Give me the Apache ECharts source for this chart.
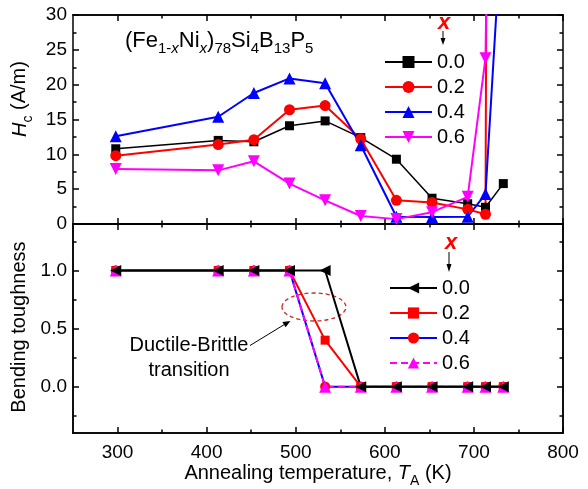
<!DOCTYPE html>
<html><head><meta charset="utf-8">
<script src="https://cdn.jsdelivr.net/npm/echarts@6/dist/echarts.min.js"></script>
<style>html,body{margin:0;padding:0;background:#fff}#c{width:588px;height:489px}</style>
</head><body><div id="c"></div>
<script>
// ---- data ----
const temps = [298, 413, 453, 493, 533, 573, 613, 653, 693, 713, 733];
const compositions = ['0.0', '0.2', '0.4', '0.6'];
const hc00 = [10.8, 12.0, 11.8, 14.1, 14.8, 12.4, 9.3, 3.7, 2.9, 2.4, 5.8];
const hc02 = [9.8, 11.4, 12.1, 16.4, 17.0, 12.2, 3.4, 3.1, 2.1, 1.4, 700];
const hc04 = [12.6, 15.4, 18.8, 20.9, 20.2, 11.3, 1.05, 1.0, 1.05, 4.3, 47];
const hc06 = [7.9, 7.7, 9.0, 5.8, 3.4, 1.15, 0.7, 1.7, 3.9, 23.8, 200];
const bt00 = [1, 1, 1, 1, 1, 0, 0, 0, 0, 0, 0];
const bt02 = [1, 1, 1, 1, 0.4, 0, 0, 0, 0, 0, 0];
const bt04 = [1, 1, 1, 1, 0, 0, 0, 0, 0, 0, 0];
const bt06 = [1, 1, 1, 1, 0, 0, 0, 0, 0, 0, 0];
const xMajorTicks = [300, 400, 500, 600, 700, 800];
const xMinorTicks = [350, 450, 550, 650, 750];
const btMajorTicks = [0, 0.5, 1.0];
const btMinorTicks = [-0.25, 0.25, 0.75, 1.25];

const FONT = '"Liberation Sans", Arial, Helvetica, sans-serif';
const zip = (xs, ys) => xs.map((x, i) => [x, ys[i]]);
const AX = {color: '#000', width: 1.5};

function xAx(grid, pos, ticks, len, showLabels, extra) {
  return Object.assign({
    type: 'value', gridIndex: grid, position: pos, min: 250, max: 800,
    axisLine: {show: true, onZero: false, lineStyle: AX},
    axisTick: {show: true, inside: true, length: len, customValues: ticks, lineStyle: AX},
    axisLabel: {show: showLabels, customValues: ticks, fontSize: 19, color: '#000', fontFamily: FONT, margin: 10},
    splitLine: {show: false}
  }, extra || {});
}
function yBt(pos, ticks, len, showLabels, extra) {
  return Object.assign({
    type: 'value', gridIndex: 1, position: pos, min: -0.4, max: 1.4,
    axisLine: {show: true, onZero: false, lineStyle: AX},
    axisTick: {show: true, inside: true, length: len, customValues: ticks, lineStyle: AX},
    axisLabel: {show: showLabels, customValues: ticks, fontSize: 19, color: '#000', fontFamily: FONT, margin: 6,
      formatter: v => Number(v).toFixed(1)},
    splitLine: {show: false}
  }, extra || {});
}
function yHc(pos, showLabels, extra) {
  return Object.assign({
    type: 'value', gridIndex: 0, position: pos, min: 0, max: 30, interval: 5,
    axisLine: {show: true, onZero: false, lineStyle: AX},
    axisTick: {show: true, inside: true, length: 6, lineStyle: AX},
    minorTick: {show: true, splitNumber: 2, length: 3.5, lineStyle: AX},
    axisLabel: {show: showLabels, fontSize: 19, color: '#000', fontFamily: FONT, margin: 6},
    splitLine: {show: false}
  }, extra || {});
}

const mainRich = {
  n: {fontSize: 20, fontFamily: FONT, color: '#000', lineHeight: 22, padding: [0, 0, 5, 0], verticalAlign: 'bottom'},
  i: {fontSize: 20, fontFamily: FONT, color: '#000', fontStyle: 'italic', lineHeight: 22, padding: [0, 0, 5, 0], verticalAlign: 'bottom'},
  s: {fontSize: 14, fontFamily: FONT, color: '#000', lineHeight: 14, verticalAlign: 'bottom'}
};

function lineSeries(name, xi, yi, ys, symbol, size, color, lw, extra) {
  return Object.assign({
    name: name, type: 'line', xAxisIndex: xi, yAxisIndex: yi,
    data: zip(temps, ys), symbol: symbol, symbolSize: size, showAllSymbol: true,
    lineStyle: {color: color, width: lw}, itemStyle: {color: color},
    clip: true, emphasis: {disabled: true}, animation: false
  }, extra || {});
}

const option = {
  animation: false,
  textStyle: {fontFamily: FONT},
  grid: [
    {left: 73, right: 25, top: 15, height: 209},
    {left: 73, right: 25, top: 224, height: 213}
  ],
  xAxis: [
    xAx(0, 'bottom', xMajorTicks, 6, false),
    xAx(0, 'bottom', xMinorTicks, 3.5, false),
    xAx(0, 'top', xMajorTicks, 6, false),
    xAx(0, 'top', xMinorTicks, 3.5, false),
    xAx(1, 'bottom', xMajorTicks, 6, true, {
      name: '{n|Annealing temperature, }{i|T}{s|A}{n| (K)}',
      nameLocation: 'middle', nameGap: 28,
      nameTextStyle: {rich: mainRich}
    }),
    xAx(1, 'bottom', xMinorTicks, 3.5, false),
    xAx(1, 'top', xMajorTicks, 6, false),
    xAx(1, 'top', xMinorTicks, 3.5, false)
  ],
  yAxis: [
    yHc('left', true, {
      name: '{i|H}{s|c}{n| (A/m)}', nameLocation: 'middle', nameRotate: 90, nameGap: 23,
      nameTextStyle: {rich: mainRich, padding: [0, 0, 0, 41]}
    }),
    yHc('right', false),
    yBt('left', btMajorTicks, 6, true, {
      name: 'Bending toughness', nameLocation: 'middle', nameRotate: 90, nameGap: 32,
      nameTextStyle: {fontSize: 20, color: '#000', fontFamily: FONT, padding: [0, 0, 0, 3]}
    }),
    yBt('left', btMinorTicks, 3.5, false),
    yBt('right', btMajorTicks, 6, false),
    yBt('right', btMinorTicks, 3.5, false)
  ],
  legend: [
    {
      data: compositions, orient: 'vertical', left: 379, top: 47,
      itemWidth: 47, itemHeight: 15, itemGap: 5, selectedMode: false,
      textStyle: {fontSize: 20, color: '#000', fontFamily: FONT}
    },
    {
      data: compositions.map(c => 'b' + c), orient: 'vertical', left: 384, top: 273,
      itemWidth: 47, itemHeight: 14, itemGap: 5, selectedMode: false,
      formatter: n => n.slice(1),
      textStyle: {fontSize: 20, color: '#000', fontFamily: FONT}
    }
  ],
  series: [
    lineSeries('0.0', 0, 0, hc00, 'rect', 9, '#000000', 1.5),
    lineSeries('0.2', 0, 0, hc02, 'circle', 11, '#ff0000', 2),
    lineSeries('0.4', 0, 0, hc04, 'triangle', 12, '#0000ff', 2),
    lineSeries('0.6', 0, 0, hc06, 'triangle', 12, '#ff00ff', 2, {symbolRotate: 180}),
    lineSeries('b0.4', 4, 2, bt04, 'circle', 10, '#0000ff', 2, {itemStyle: {color: '#ff0000'}}),
    lineSeries('b0.2', 4, 2, bt02, 'rect', 9, '#ff0000', 2),
    lineSeries('b0.6', 4, 2, bt06, 'triangle', 12, '#ff00ff', 2, {lineStyle: {color: '#ff00ff', width: 2, type: [7, 4]}}),
    lineSeries('b0.0', 4, 2, bt00, 'triangle', 11, '#000000', 2, {symbolRotate: 90})
  ],
  graphic: [
    {
      type: 'text', x: 125, y: 44.5,
      style: {
        text: '{m|(Fe}{s|1-}{si|x}{m|Ni}{si|x}{m|)}{s|78}{m|Si}{s|4}{m|B}{s|13}{m|P}{s|5}',
        verticalAlign: 'middle',
        rich: {
          m: {fontSize: 22, fontFamily: FONT, fill: '#000', lineHeight: 24, padding: [0, 0, 5, 0], verticalAlign: 'bottom'},
          s: {fontSize: 15, fontFamily: FONT, fill: '#000', lineHeight: 15, verticalAlign: 'bottom'},
          si: {fontSize: 15, fontFamily: FONT, fill: '#000', fontStyle: 'italic', lineHeight: 15, verticalAlign: 'bottom'}
        }
      }
    },
    // legend header "x" with arrow (top panel)
    {type: 'text', x: 444, y: 23, style: {text: 'x', fontSize: 22, fontStyle: 'italic', fontWeight: 'bold', fontFamily: FONT, fill: '#ff0000', align: 'center', verticalAlign: 'middle'}},
    {type: 'line', shape: {x1: 443, y1: 31, x2: 443, y2: 40}, style: {stroke: '#000', lineWidth: 1}},
    {type: 'polygon', shape: {points: [[440.5, 38], [445.5, 38], [443, 45]]}, style: {fill: '#000'}},
    // legend header "x" with arrow (bottom panel)
    {type: 'text', x: 451, y: 243, style: {text: 'x', fontSize: 22, fontStyle: 'italic', fontWeight: 'bold', fontFamily: FONT, fill: '#ff0000', align: 'center', verticalAlign: 'middle'}},
    {type: 'line', shape: {x1: 449, y1: 252, x2: 449, y2: 266}, style: {stroke: '#000', lineWidth: 1}},
    {type: 'polygon', shape: {points: [[446.5, 264], [451.5, 264], [449, 272]]}, style: {fill: '#000'}},
    // ductile-brittle transition annotation
    {type: 'ellipse', shape: {cx: 314, cy: 307, rx: 32, ry: 14}, style: {fill: 'none', stroke: '#c82828', lineWidth: 1.3, lineDash: [4, 3]}},
    {type: 'text', x: 189, y: 358, style: {text: 'Ductile-Brittle\ntransition', fontSize: 20, fontFamily: FONT, fill: '#000', align: 'center', verticalAlign: 'middle', lineHeight: 25}},
    {type: 'line', shape: {x1: 250, y1: 345.5, x2: 286, y2: 323.5}, style: {stroke: '#000', lineWidth: 1}},
    {type: 'polygon', shape: {points: [[290.5, 321], [285.6, 327.2], [282.4, 322.1]]}, style: {fill: '#000'}}
  ]
};

const chart = echarts.init(document.getElementById('c'), null, {renderer: 'canvas'});
chart.setOption(option);
</script>
</body></html>
